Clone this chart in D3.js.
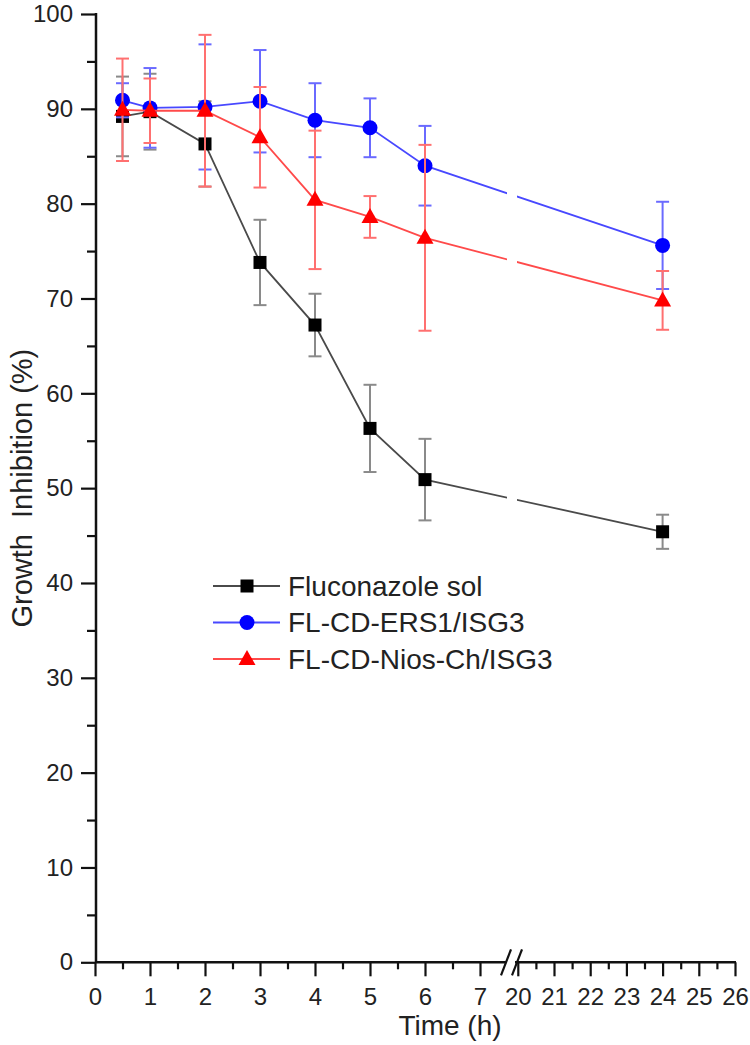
<!DOCTYPE html>
<html>
<head>
<meta charset="utf-8">
<script src="https://cdn.jsdelivr.net/npm/d3@7"></script>
<style>
  body { margin: 0; background: #fff; }
  svg { font-family: "Liberation Sans", Arial, sans-serif; }
</style>
</head>
<body>
<svg id="chart" width="750" height="1045"></svg>
<script>
// data
var times = [0.5, 1, 2, 3, 4, 5, 6, 24];
var fluconazole = [89.2, 89.7, 86.3, 73.8, 67.2, 56.3, 50.9, 45.4];
var fluconazoleErr = [4.2, 4.0, 4.5, 4.5, 3.3, 4.6, 4.3, 1.8];
var ers1 = [90.9, 90.1, 90.2, 90.8, 88.8, 88.0, 84.0, 75.6];
var ers1Err = [1.8, 4.2, 6.6, 5.4, 3.9, 3.1, 4.2, 4.6];
var niosCh = [89.9, 89.8, 89.8, 87.0, 80.4, 78.6, 76.4, 69.8];
var niosChErr = [5.4, 3.4, 8.0, 5.3, 7.3, 2.2, 9.8, 3.1];
var seriesNames = ["Fluconazole sol", "FL-CD-ERS1/ISG3", "FL-CD-Nios-Ch/ISG3"];
var yTicks = [0, 10, 20, 30, 40, 50, 60, 70, 80, 90, 100];
var xTicksLeft = [0, 1, 2, 3, 4, 5, 6, 7];
var xTicksRight = [20, 21, 22, 23, 24, 25, 26];

var svg = d3.select("#chart");

// broken x axis: two linear pieces
var xL = d3.scaleLinear().domain([0, 7.55]).range([95, 510.25]);
var xR = d3.scaleLinear().domain([20, 26]).range([517.8, 735]);
var x = t => t < 10 ? xL(t) : xR(t);
var y = d3.scaleLinear().domain([0, 100]).range([962.3, 14]);

// clip that leaves the gap at the break
var defs = svg.append("defs");
var clip = defs.append("clipPath").attr("id", "brk");
clip.append("rect").attr("x", 0).attr("y", 0).attr("width", 507).attr("height", 1045);
clip.append("rect").attr("x", 517).attr("y", 0).attr("width", 233).attr("height", 1045);

var series = [
  { name: seriesNames[0], vals: fluconazole, err: fluconazoleErr, line: "#4a4a4a", bar: "#8a8a8a", fill: "#000", shape: "square" },
  { name: seriesNames[1], vals: ers1, err: ers1Err, line: "#4848ff", bar: "#6a6aff", fill: "#0000ff", shape: "circle" },
  { name: seriesNames[2], vals: niosCh, err: niosChErr, line: "#ff4a4a", bar: "#ff7070", fill: "#ff0000", shape: "triangle" }
];

function marker(g, shape, fill) {
  if (shape === "square") {
    g.append("rect").attr("x", -6.5).attr("y", -6.5).attr("width", 13).attr("height", 13).attr("fill", fill);
  } else if (shape === "circle") {
    g.append("circle").attr("r", 7.5).attr("fill", fill);
  } else {
    g.append("path").attr("d", "M0,-9L8.5,6L-8.5,6Z").attr("fill", fill);
  }
}

// axes
var axisG = svg.append("g");
var fmt = d3.format("d");

var yAxis = d3.axisLeft(y).tickValues(yTicks).tickFormat(fmt).tickSize(15).tickSizeOuter(0).tickPadding(8);
var yg = axisG.append("g").attr("transform", "translate(96,0)").call(yAxis);
yg.select(".domain").remove();
yg.selectAll(".tick line").attr("stroke", "#111").attr("stroke-width", 2.2);
yg.selectAll(".tick text").attr("font-size", 24).attr("fill", "#222").attr("font-family", null);
var yMinor = d3.axisLeft(y).tickValues(d3.range(5, 100, 10)).tickSize(9).tickFormat("").tickSizeOuter(0);
var ym = axisG.append("g").attr("transform", "translate(96,0)").call(yMinor);
ym.select(".domain").remove();
ym.selectAll(".tick line").attr("stroke", "#111").attr("stroke-width", 2.2);
axisG.append("line").attr("x1", 96).attr("x2", 96).attr("y1", y(100) - 1).attr("y2", y(0))
  .attr("stroke", "#111").attr("stroke-width", 2.5);

function xAxisPiece(scale, ticks, minors) {
  var a = d3.axisBottom(scale).tickValues(ticks).tickFormat(fmt).tickSize(14).tickSizeOuter(0).tickPadding(12);
  var g = axisG.append("g").attr("transform", "translate(0," + y(0) + ")").call(a);
  g.select(".domain").remove();
  g.selectAll(".tick line").attr("stroke", "#111").attr("stroke-width", 2.2);
  g.selectAll(".tick text").attr("font-size", 24).attr("fill", "#222").attr("font-family", null);
  var m = d3.axisBottom(scale).tickValues(minors).tickSize(7).tickFormat("").tickSizeOuter(0);
  var gm = axisG.append("g").attr("transform", "translate(0," + y(0) + ")").call(m);
  gm.select(".domain").remove();
  gm.selectAll(".tick line").attr("stroke", "#111").attr("stroke-width", 2.2);
}
xAxisPiece(xL, xTicksLeft, d3.range(0.5, 7, 1));
xAxisPiece(xR, xTicksRight, d3.range(20.5, 26, 1));

axisG.append("line").attr("x1", 96).attr("x2", 506).attr("y1", y(0)).attr("y2", y(0))
  .attr("stroke", "#111").attr("stroke-width", 2.5);
axisG.append("line").attr("x1", 515).attr("x2", 736).attr("y1", y(0)).attr("y2", y(0))
  .attr("stroke", "#111").attr("stroke-width", 2.5);
// break marks
axisG.append("line").attr("x1", 501).attr("y1", y(0) + 13).attr("x2", 511).attr("y2", y(0) - 13)
  .attr("stroke", "#111").attr("stroke-width", 2.2);
axisG.append("line").attr("x1", 512).attr("y1", y(0) + 13).attr("x2", 522).attr("y2", y(0) - 13)
  .attr("stroke", "#111").attr("stroke-width", 2.2);

// axis titles
svg.append("text").attr("x", 450).attr("y", 1035).attr("text-anchor", "middle")
  .attr("font-size", 28).attr("fill", "#222").text("Time (h)");
svg.append("text").attr("transform", "translate(32," + y(50) + ") rotate(-90)")
  .attr("text-anchor", "middle").attr("font-size", 29).attr("fill", "#222")
  .style("white-space", "pre").text("Growth  Inhibition (%)");

// series
var line = d3.line().x((d, i) => x(times[i])).y(d => y(d));

series.forEach(function(s) {
  var g = svg.append("g");
  var bars = g.append("g").attr("stroke", s.bar).attr("stroke-width", 2);
  s.vals.forEach(function(v, i) {
    var cx = x(times[i]);
    var lo = y(v - s.err[i]), hi = y(v + s.err[i]);
    bars.append("line").attr("x1", cx).attr("x2", cx).attr("y1", lo).attr("y2", hi);
    bars.append("line").attr("x1", cx - 6.5).attr("x2", cx + 6.5).attr("y1", lo).attr("y2", lo);
    bars.append("line").attr("x1", cx - 6.5).attr("x2", cx + 6.5).attr("y1", hi).attr("y2", hi);
  });
  g.append("path").datum(s.vals).attr("d", line).attr("fill", "none")
    .attr("stroke", s.line).attr("stroke-width", 1.8).attr("clip-path", "url(#brk)");
  s.vals.forEach(function(v, i) {
    var m = g.append("g").attr("transform", "translate(" + x(times[i]) + "," + y(v) + ")");
    marker(m, s.shape, s.fill);
  });
});

// legend
var legend = svg.append("g");
series.forEach(function(s, i) {
  var ly = 586 + i * 36.5;
  legend.append("line").attr("x1", 213).attr("x2", 280).attr("y1", ly).attr("y2", ly)
    .attr("stroke", s.line).attr("stroke-width", 1.8);
  var m = legend.append("g").attr("transform", "translate(247," + ly + ")");
  marker(m, s.shape, s.fill);
  legend.append("text").attr("x", 288).attr("y", ly).attr("dy", "0.35em")
    .attr("font-size", 28).attr("fill", "#222").text(s.name);
});
</script>
</body>
</html>
